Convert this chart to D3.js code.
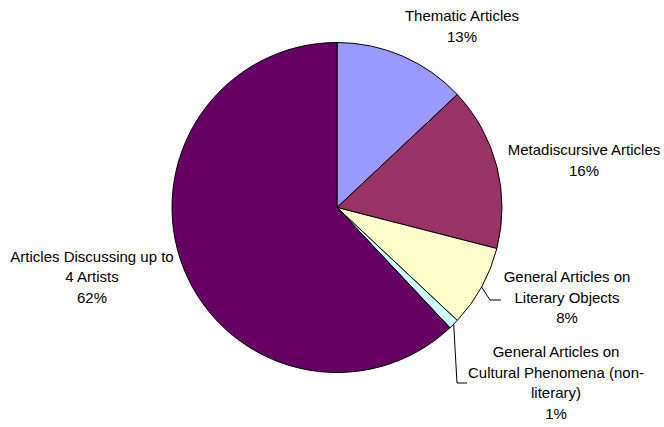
<!DOCTYPE html>
<html>
<head>
<meta charset="utf-8">
<script src="https://cdn.jsdelivr.net/npm/d3@7/dist/d3.min.js"></script>
<style>
  html, body { margin: 0; padding: 0; background: #fff; }
  svg { display: block; }
  text { font-family: "Liberation Sans", Arial, sans-serif; font-size: 15px; fill: #000; }
</style>
</head>
<body>
<svg id="chart" width="664" height="427"></svg>
<script>
// Article categories (clockwise from 12 o'clock) and their shares in percent
const categories = [
  "Thematic Articles",
  "Metadiscursive Articles",
  "General Articles on Literary Objects",
  "General Articles on Cultural Phenomena (non-literary)",
  "Articles Discussing up to 4 Artists"
];
const shares = [13, 16, 8, 1, 62];
// Label lines as they wrap in the chart
const labelLines = [
  ["Thematic Articles"],
  ["Metadiscursive Articles"],
  ["General Articles on", "Literary Objects"],
  ["General Articles on", "Cultural Phenomena (non-", "literary)"],
  ["Articles Discussing up to", "4 Artists"]
];
const colors = ["#9999FF", "#993366", "#FFFFCC", "#CCFFFF", "#660066"];

const svg = d3.select("#chart");
const cx = 337, cy = 207.5, radius = 165;
const lineH = 20.5;

// Label block placement: centre x and first baseline y, plus an optional leader elbow
const labelLayout = [
  { x: 462, y: 21 },
  { x: 584, y: 155 },
  { x: 567, y: 282, elbow: [490, 300], end: [501, 300] },
  { x: 556, y: 357, elbow: [457, 383], end: [467, 383] },
  { x: 92,  y: 261.5 }
];

const data = categories.map((c, i) => ({ name: c, value: shares[i], lines: labelLines[i], color: colors[i] }));

const pie = d3.pie().value(d => d.value).sort(null);
const arcs = pie(data);
const arc = d3.arc().innerRadius(0).outerRadius(radius);
const g = svg.append("g").attr("transform", `translate(${cx},${cy})`);

g.selectAll("path.slice")
  .data(arcs)
  .join("path")
  .attr("class", "slice")
  .attr("d", arc)
  .attr("fill", d => d.data.color)
  .attr("stroke", "#000")
  .attr("stroke-width", 1)
  .attr("stroke-linejoin", "round");

// Leader lines from the slice edge to the label
arcs.forEach((a, i) => {
  const L = labelLayout[i];
  if (!L.elbow) return;
  const mid = (a.startAngle + a.endAngle) / 2;
  const sx = cx + radius * Math.sin(mid), sy = cy - radius * Math.cos(mid);
  svg.append("polyline")
    .attr("points", [[sx, sy], L.elbow, L.end].map(p => p.join(",")).join(" "))
    .attr("fill", "none")
    .attr("stroke", "#000")
    .attr("stroke-width", 1);
});

// Category labels with their percentage
const fmt = d3.format(".0f");
arcs.forEach((a, i) => {
  const L = labelLayout[i];
  const lines = a.data.lines.concat([fmt(a.data.value) + "%"]);
  const t = svg.append("text").attr("text-anchor", "middle");
  lines.forEach((s, k) => {
    t.append("tspan").attr("x", L.x).attr("y", L.y + k * lineH).text(s);
  });
});
</script>
</body>
</html>
